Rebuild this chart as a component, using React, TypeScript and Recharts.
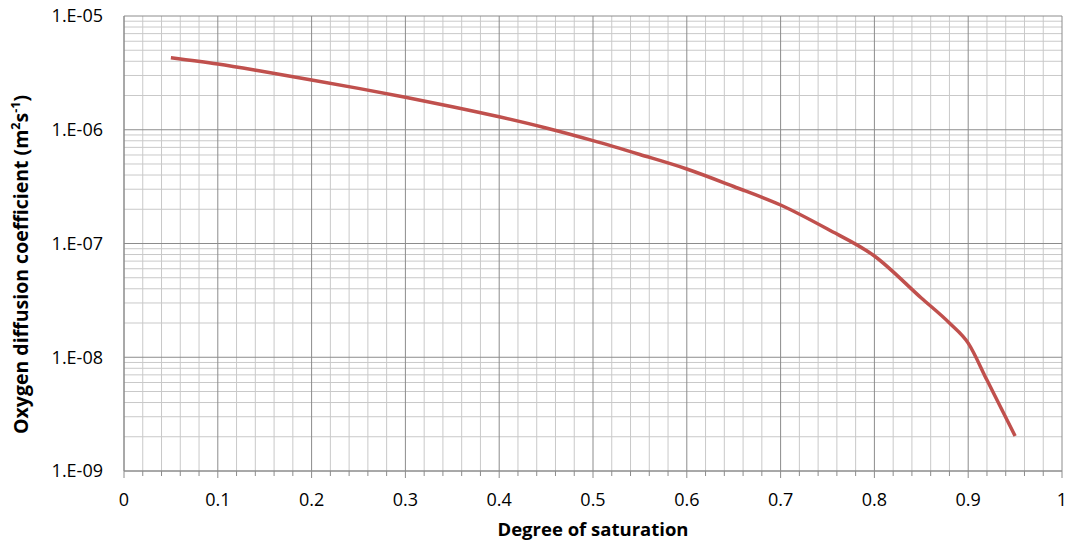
import React from 'react';
import { LineChart, Line, XAxis, YAxis, ReferenceLine } from 'recharts';

const saturation = [0.05, 0.1, 0.15, 0.2, 0.25, 0.3, 0.35, 0.4, 0.45, 0.5, 0.55, 0.6, 0.65, 0.7, 0.75, 0.8, 0.85, 0.88, 0.9, 0.92, 0.95];
const diffusion = [4.3e-6, 3.78e-6, 3.23e-6, 2.74e-6, 2.31e-6, 1.93e-6, 1.595e-6, 1.3e-6, 1.036e-6, 8.02e-7, 6.06e-7, 4.52e-7, 3.17e-7, 2.18e-7, 1.34e-7, 7.77e-8, 3.32e-8, 2.0e-8, 1.33e-8, 6.3e-9, 2.03e-9];

const xTicks = [0, 0.02, 0.04, 0.06, 0.08, 0.1, 0.12, 0.14, 0.16, 0.18, 0.2, 0.22, 0.24, 0.26, 0.28, 0.3, 0.32, 0.34, 0.36, 0.38, 0.4, 0.42, 0.44, 0.46, 0.48, 0.5, 0.52, 0.54, 0.56, 0.58, 0.6, 0.62, 0.64, 0.66, 0.68, 0.7, 0.72, 0.74, 0.76, 0.78, 0.8, 0.82, 0.84, 0.86, 0.88, 0.9, 0.92, 0.94, 0.96, 0.98, 1];
const xMajor = [0, 0.1, 0.2, 0.3, 0.4, 0.5, 0.6, 0.7, 0.8, 0.9, 1];
const xMajorLabels = ['0', '0.1', '0.2', '0.3', '0.4', '0.5', '0.6', '0.7', '0.8', '0.9', '1'];

const yTicks = [1e-9, 1e-8, 1e-7, 1e-6, 1e-5];
const yTickLabels = ['1.E-09', '1.E-08', '1.E-07', '1.E-06', '1.E-05'];
const yMinor = [
  2e-9, 3e-9, 4e-9, 5e-9, 6e-9, 7e-9, 8e-9, 9e-9,
  2e-8, 3e-8, 4e-8, 5e-8, 6e-8, 7e-8, 8e-8, 9e-8,
  2e-7, 3e-7, 4e-7, 5e-7, 6e-7, 7e-7, 8e-7, 9e-7,
  2e-6, 3e-6, 4e-6, 5e-6, 6e-6, 7e-6, 8e-6, 9e-6,
];

const data = saturation.map((s, i) => ({ s, d: diffusion[i] }));

const FONT = '"Open Sans", sans-serif';
const MAJOR = '#8c8c8c';
const MINOR = '#c9c9c9';

const XTick = (props: any) => {
  const { x, y, payload } = props;
  const v = payload.value;
  const idx = xMajor.findIndex((m) => Math.abs(m - v) < 1e-9);
  const major = idx >= 0;
  return (
    <g>
      <line x1={x} x2={x} y1={y} y2={y + (major ? 7 : 5)} stroke={MAJOR} strokeWidth={1} />
      {major && (
        <text x={x} y={y + 22} dy="0.71em" textAnchor="middle" fontSize={18} fontFamily={FONT} fill="#000">
          {xMajorLabels[idx]}
        </text>
      )}
    </g>
  );
};

const YTitle = (props: any) => {
  const vb = props.viewBox || { x: 64, y: 16, width: 60, height: 455 };
  const cx = vb.x + vb.width - 96;
  const cy = vb.y + vb.height / 2 + 21;
  return (
    <text
      x={cx}
      y={cy}
      transform={`rotate(-90, ${cx}, ${cy})`}
      textAnchor="middle"
      fontSize={19.5}
      fontWeight="bold"
      fontFamily={FONT}
      fill="#000"
    >
      Oxygen diffusion coefficient (m
      <tspan baselineShift="super" fontSize={12.5}>2</tspan>
      s
      <tspan baselineShift="super" fontSize={12.5}>-1</tspan>
      )
    </text>
  );
};

const XTitle = (props: any) => {
  const vb = props.viewBox || { x: 124, y: 471, width: 938, height: 30 };
  return (
    <text
      x={vb.x + vb.width / 2}
      y={vb.y + 65}
      textAnchor="middle"
      fontSize={18.5}
      fontWeight="bold"
      fontFamily={FONT}
      fill="#000"
    >
      Degree of saturation
    </text>
  );
};

export default function App() {
  return (
    <div style={{ position: 'absolute', left: 0, top: 0, background: '#fff' }}>
      <LineChart width={1071} height={544} data={data} margin={{ top: 16, right: 9, bottom: 43, left: 64 }}>
        {yMinor.map((v) => (
          <ReferenceLine key={`ym${v}`} y={v} stroke={MINOR} strokeWidth={1} />
        ))}
        {xTicks.filter((t) => !xMajor.some((m) => Math.abs(m - t) < 1e-9)).map((v) => (
          <ReferenceLine key={`xm${v}`} x={v} stroke={MINOR} strokeWidth={1} />
        ))}
        {yTicks.map((v) => (
          <ReferenceLine key={`yM${v}`} y={v} stroke={MAJOR} strokeWidth={1} />
        ))}
        {xMajor.map((v) => (
          <ReferenceLine key={`xM${v}`} x={v} stroke={MAJOR} strokeWidth={1} />
        ))}
        <XAxis
          dataKey="s"
          type="number"
          domain={[0, 1]}
          ticks={xTicks}
          interval={0}
          height={30}
          tickSize={0}
          tickMargin={0}
          tickLine={false}
          axisLine={{ stroke: MAJOR }}
          tick={<XTick />}
          label={{ content: (p: any) => <XTitle {...p} /> }}
        />
        <YAxis
          dataKey="d"
          type="number"
          scale="log"
          domain={[1e-9, 1e-5]}
          allowDataOverflow
          ticks={yTicks}
          interval={0}
          width={60}
          tickLine={false}
          tickSize={6}
          tickMargin={15}
          axisLine={{ stroke: MAJOR }}
          tick={{ fontSize: 18, fill: '#000', fontFamily: FONT }}
          tickFormatter={(v: number, i: number) => yTickLabels[i]}
          label={{ content: (p: any) => <YTitle {...p} /> }}
        />
        <Line
          type="monotone"
          dataKey="d"
          stroke="#C0504D"
          strokeWidth={3.5}
          dot={false}
          isAnimationActive={false}
        />
      </LineChart>
    </div>
  );
}
